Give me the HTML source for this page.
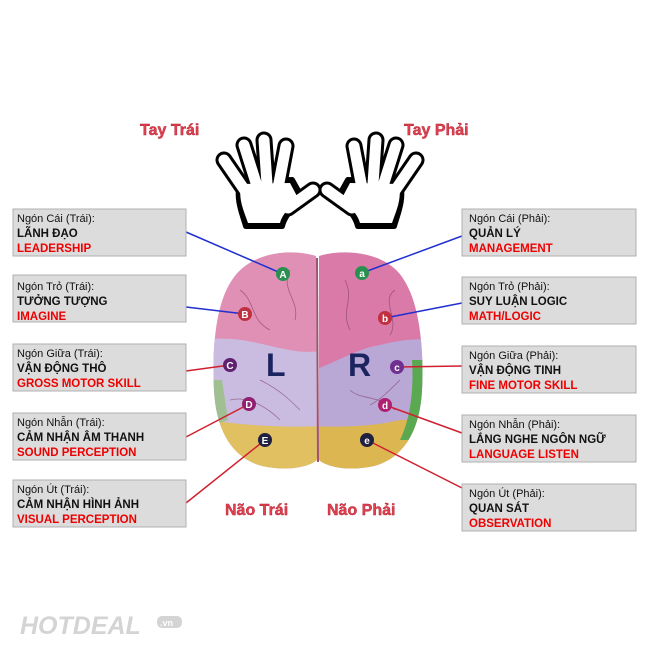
<!DOCTYPE html>
<html><head><meta charset="utf-8"><style>
body{margin:0;background:#fff;}
svg{display:block;font-family:"Liberation Sans",Arial,sans-serif;}
.l1{font-size:11px;fill:#111}
.l2{font-size:11.5px;font-weight:bold;fill:#111}
.l3{font-size:11.5px;font-weight:bold;fill:#e00}
.ti{font-size:16px;font-weight:bold;fill:#e04050;stroke:#b02030;stroke-width:.4}
</style></head><body>
<svg width="650" height="650" viewBox="0 0 650 650">
<defs>
<clipPath id="lh"><path d="M316,256 C290,248 250,252 232,280 C215,305 212,350 214,390 C216,430 232,458 262,466 C290,472 310,466 317,460 Z"/></clipPath>
<clipPath id="rh"><path d="M319,256 C345,248 388,252 404,280 C420,305 424,350 422,390 C420,430 404,458 374,466 C346,472 326,466 319,460 Z"/></clipPath>
<g id="hand">
<g stroke-linecap="round" stroke-linejoin="round" fill="none">
<path d="M224,160 L246,192 M244,145 L257,186 M264,140 L267,184 M286,146 L278,188 M313,190 L288,208" stroke="#000" stroke-width="17"/>
<path d="M240,182 C236,200 242,212 246,226 L282,226 C285,214 294,207 302,198 L292,180 Z" fill="#000" stroke="#000" stroke-width="6"/>
<path d="M224,160 L246,192 M244,145 L257,186 M264,140 L267,184 M286,146 L278,188 M313,190 L288,208" stroke="#fff" stroke-width="11"/>
<path d="M241,184 C238,200 244,211 248,223 L280,223 C283,212 292,206 298,198 L290,183 Z" fill="#fff" stroke="none"/>
</g>
</g>
</defs>
<rect width="650" height="650" fill="#fff"/>
<text x="140" y="135" class="ti">Tay Trái</text>
<text x="404" y="135" class="ti">Tay Phải</text>
<use href="#hand"/>
<use href="#hand" transform="translate(640,0) scale(-1,1)"/>
<g clip-path="url(#lh)">
<rect x="200" y="240" width="130" height="240" fill="#e08fb5"/>
<path d="M200,340 C240,335 260,345 290,350 C305,353 315,352 330,350 L330,480 L200,480Z" fill="#c9bce0"/>
<path d="M200,420 L210,420 C240,425 280,428 330,426 L330,480 L200,480Z" fill="#e0c060"/>
<path d="M200,380 L222,380 L228,420 L200,430Z" fill="#8ec070" opacity=".7"/>
</g>
<g clip-path="url(#rh)">
<rect x="310" y="240" width="130" height="240" fill="#d97aa8"/>
<path d="M310,372 C340,360 360,348 380,345 C400,340 415,338 440,340 L440,480 L310,480Z" fill="#b9a8d6"/>
<path d="M310,426 C350,428 380,425 400,420 L440,418 L440,480 L310,480Z" fill="#dcb650"/>
<path d="M412,360 L440,360 L440,440 L400,440 C410,420 414,390 412,360Z" fill="#5aa850"/>
</g>
<path d="M317,258 L318,462" stroke="#a05070" stroke-width="2"/>
<g fill="none" stroke="#7a3a60" stroke-width="0.8" opacity=".6">
<path d="M240,290 C255,300 250,320 270,330 M290,270 C280,290 300,300 295,320 M260,380 C280,390 290,400 300,410 M230,400 C250,395 270,410 280,420"/>
<path d="M345,280 C355,300 340,310 350,330 M395,290 C380,300 400,320 390,335 M350,390 C360,400 380,395 395,410 M400,380 C390,390 380,400 370,405"/>
</g>
<text x="266" y="376" font-size="32" font-weight="bold" fill="#1c2460">L</text>
<text x="348" y="376" font-size="32" font-weight="bold" fill="#1c2460">R</text>
<g stroke-width="1.5">
<line x1="186" y1="232" x2="283" y2="274" stroke="#2030d0"/>
<line x1="186" y1="307" x2="245" y2="314" stroke="#2030d0"/>
<line x1="186" y1="371" x2="230" y2="365" stroke="#d02030"/>
<line x1="186" y1="437" x2="249" y2="404" stroke="#d02030"/>
<line x1="186" y1="503" x2="265" y2="440" stroke="#d02030"/>
<line x1="462" y1="236" x2="362" y2="273" stroke="#2030d0"/>
<line x1="462" y1="303" x2="385" y2="318" stroke="#2030d0"/>
<line x1="462" y1="366" x2="397" y2="367" stroke="#d02030"/>
<line x1="462" y1="433" x2="385" y2="405" stroke="#d02030"/>
<line x1="462" y1="488" x2="367" y2="440" stroke="#d02030"/>
</g>
<g font-size="10" font-weight="bold" fill="#fff" text-anchor="middle">
<circle cx="283" cy="274" r="7" fill="#2a9050"/><text x="283" y="278">A</text>
<circle cx="245" cy="314" r="7" fill="#c03040"/><text x="245" y="318">B</text>
<circle cx="230" cy="365" r="7" fill="#602070"/><text x="230" y="369">C</text>
<circle cx="249" cy="404" r="7" fill="#902070"/><text x="249" y="408">D</text>
<circle cx="265" cy="440" r="7" fill="#202040"/><text x="265" y="444">E</text>
<circle cx="362" cy="273" r="7" fill="#2a9050"/><text x="362" y="277">a</text>
<circle cx="385" cy="318" r="7" fill="#c03040"/><text x="385" y="322">b</text>
<circle cx="397" cy="367" r="7" fill="#703090"/><text x="397" y="371">c</text>
<circle cx="385" cy="405" r="7" fill="#b02070"/><text x="385" y="409">d</text>
<circle cx="367" cy="440" r="7" fill="#202040"/><text x="367" y="444">e</text>
</g>
<text x="225" y="515" class="ti">Não Trái</text>
<text x="327" y="515" class="ti">Não Phải</text>
<g fill="#dcdcdc" stroke="#b0b0b0" stroke-width="1">
<rect x="13" y="209" width="173" height="47"/>
<rect x="13" y="275" width="173" height="47"/>
<rect x="13" y="344" width="173" height="47"/>
<rect x="13" y="413" width="173" height="47"/>
<rect x="13" y="480" width="173" height="47"/>
<rect x="462" y="209" width="174" height="47"/>
<rect x="462" y="277" width="174" height="47"/>
<rect x="462" y="346" width="174" height="47"/>
<rect x="462" y="415" width="174" height="47"/>
<rect x="462" y="484" width="174" height="47"/>
</g>
<g>
<text x="17" y="222" class="l1">Ngón Cái (Trái):</text><text x="17" y="237" class="l2">LÃNH ĐẠO</text><text x="17" y="252" class="l3">LEADERSHIP</text>
<text x="17" y="290" class="l1">Ngón Trỏ (Trái):</text><text x="17" y="305" class="l2">TƯỞNG TƯỢNG</text><text x="17" y="320" class="l3">IMAGINE</text>
<text x="17" y="357" class="l1">Ngón Giữa (Trái):</text><text x="17" y="372" class="l2">VẬN ĐỘNG THÔ</text><text x="17" y="387" class="l3">GROSS MOTOR SKILL</text>
<text x="17" y="426" class="l1">Ngón Nhẫn (Trái):</text><text x="17" y="441" class="l2">CẢM NHẬN ÂM THANH</text><text x="17" y="456" class="l3">SOUND PERCEPTION</text>
<text x="17" y="493" class="l1">Ngón Út (Trái):</text><text x="17" y="508" class="l2">CẢM NHẬN HÌNH ẢNH</text><text x="17" y="523" class="l3">VISUAL PERCEPTION</text>
<text x="469" y="222" class="l1">Ngón Cái (Phải):</text><text x="469" y="237" class="l2">QUẢN LÝ</text><text x="469" y="252" class="l3">MANAGEMENT</text>
<text x="469" y="290" class="l1">Ngón Trỏ (Phải):</text><text x="469" y="305" class="l2">SUY LUẬN LOGIC</text><text x="469" y="320" class="l3">MATH/LOGIC</text>
<text x="469" y="359" class="l1">Ngón Giữa (Phải):</text><text x="469" y="374" class="l2">VẬN ĐỘNG TINH</text><text x="469" y="389" class="l3">FINE MOTOR SKILL</text>
<text x="469" y="428" class="l1">Ngón Nhẫn (Phải):</text><text x="469" y="443" class="l2">LẮNG NGHE NGÔN NGỮ</text><text x="469" y="458" class="l3">LANGUAGE LISTEN</text>
<text x="469" y="497" class="l1">Ngón Út (Phải):</text><text x="469" y="512" class="l2">QUAN SÁT</text><text x="469" y="527" class="l3">OBSERVATION</text>
</g>
<text x="20" y="634" font-size="25" font-weight="bold" font-style="italic" fill="#d4d4d4">HOTDEAL</text>
<rect x="157" y="616" width="25" height="12" rx="5" fill="#d4d4d4"/>
<text x="160" y="626" font-size="9" font-weight="bold" fill="#fff">.vn</text>
</svg>
</body></html>
